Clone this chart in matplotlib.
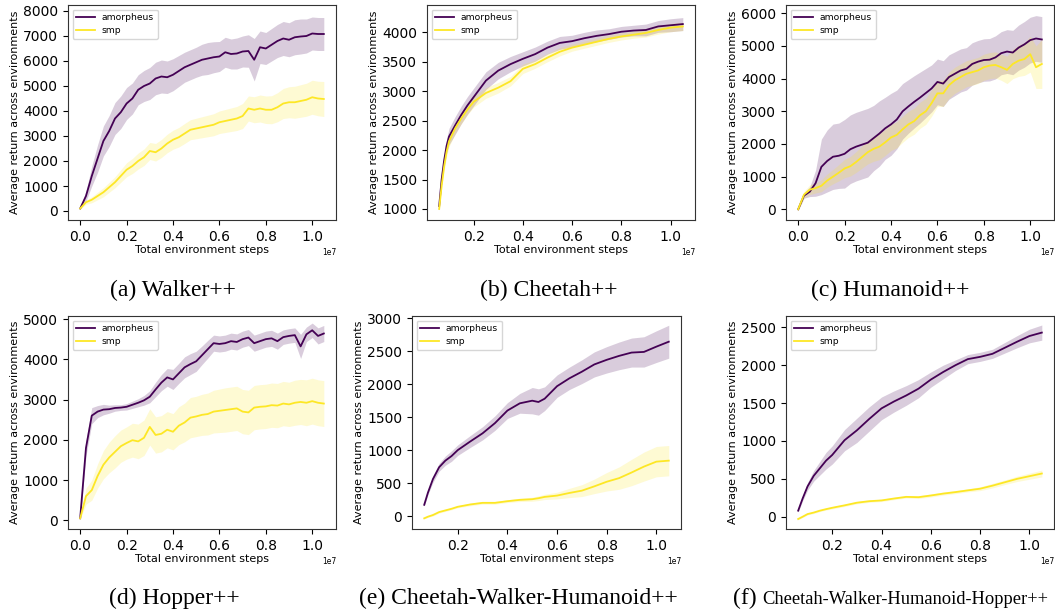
import matplotlib
matplotlib.use("Agg")
import matplotlib.pyplot as plt
from matplotlib.ticker import MultipleLocator
import numpy as np

AMORPH_COLOR = "#440154"
SMP_COLOR = "#fde725"

# x values are in units of 1e7 environment steps
walker_x = [0.0, 0.025, 0.05, 0.075, 0.1, 0.125, 0.15, 0.175, 0.2, 0.225, 0.25, 0.275, 0.3, 0.325, 0.35,
            0.375, 0.4, 0.425, 0.45, 0.475, 0.5, 0.525, 0.55, 0.575, 0.6, 0.625, 0.65, 0.675, 0.7, 0.725,
            0.75, 0.775, 0.8, 0.825, 0.85, 0.875, 0.9, 0.925, 0.95, 0.975, 1.0, 1.025, 1.05]
walker_amorph = [100, 600, 1400, 2100, 2800, 3200, 3700, 3950, 4300, 4500, 4850, 5000, 5100, 5300, 5380,
                 5350, 5450, 5600, 5750, 5850, 5950, 6050, 6100, 6150, 6180, 6350, 6280, 6300, 6380, 6400,
                 6050, 6550, 6500, 6650, 6800, 6900, 6850, 6950, 6980, 7000, 7100, 7080, 7080]
walker_amorph_sd = [30, 200, 400, 550, 600, 620, 640, 650, 640, 620, 600, 620, 640, 650, 660,
                    650, 640, 620, 600, 600, 600, 620, 640, 620, 600, 600, 600, 620, 620, 650,
                    850, 650, 640, 650, 660, 680, 680, 700, 700, 680, 660, 660, 660]
walker_smp = [100, 350, 450, 600, 750, 950, 1150, 1400, 1650, 1800, 2000, 2150, 2400, 2350, 2500,
              2700, 2850, 2950, 3100, 3250, 3300, 3350, 3400, 3450, 3550, 3600, 3650, 3700, 3800, 4100,
              4050, 4100, 4050, 4050, 4150, 4300, 4350, 4350, 4400, 4450, 4550, 4500, 4480]
walker_smp_sd = [30, 80, 120, 150, 180, 200, 220, 250, 280, 300, 320, 330, 340, 350, 360,
                 370, 380, 390, 400, 400, 410, 420, 430, 440, 450, 460, 470, 480, 500, 500,
                 520, 540, 550, 560, 580, 600, 620, 640, 650, 660, 680, 690, 700]

cheetah_x = [0.06, 0.07, 0.08, 0.09, 0.1, 0.125, 0.15, 0.175, 0.2, 0.25, 0.3, 0.35, 0.4, 0.45, 0.5,
             0.55, 0.6, 0.65, 0.7, 0.75, 0.8, 0.85, 0.9, 0.95, 1.0, 1.05]
cheetah_amorph = [1050, 1500, 1820, 2070, 2230, 2420, 2600, 2760, 2900, 3180, 3350, 3460, 3550, 3630, 3740,
                  3820, 3850, 3900, 3940, 3970, 4010, 4030, 4040, 4100, 4120, 4140]
cheetah_amorph_sd = [30, 60, 100, 120, 140, 150, 150, 150, 150, 150, 140, 130, 120, 120, 110,
                     110, 100, 100, 100, 90, 90, 90, 100, 100, 110, 110]
cheetah_smp = [1000, 1400, 1720, 1970, 2150, 2370, 2540, 2690, 2820, 2970, 3060, 3170, 3380, 3460, 3570,
               3670, 3740, 3790, 3840, 3890, 3930, 3960, 3990, 4040, 4080, 4100]
cheetah_smp_sd = [20, 50, 70, 80, 90, 90, 90, 90, 90, 90, 90, 80, 80, 70, 70,
                  70, 60, 60, 60, 60, 60, 60, 70, 70, 70, 70]

humanoid_x = walker_x
humanoid_amorph = [0, 420, 540, 800, 1300, 1480, 1610, 1640, 1700, 1840, 1920, 1980, 2040, 2180, 2320,
                   2480, 2600, 2750, 3000, 3150, 3290, 3420, 3560, 3700, 3900, 3850, 4050, 4150, 4250, 4300,
                   4450, 4520, 4570, 4580, 4650, 4780, 4830, 4800, 4950, 5050, 5180, 5230, 5200]
humanoid_amorph_sd = [30, 80, 150, 400, 850, 950, 1000, 1000, 1050, 1050, 1050, 1050, 1050, 1000, 1000,
                      950, 950, 900, 850, 820, 800, 780, 750, 720, 700, 700, 680, 670, 660, 650,
                      650, 650, 650, 650, 660, 660, 670, 680, 690, 700, 700, 700, 700]
humanoid_smp = [0, 450, 600, 650, 720, 880, 1000, 1120, 1250, 1320, 1450, 1600, 1750, 1850, 1920,
                2050, 2200, 2280, 2450, 2600, 2700, 2880, 3000, 3250, 3550, 3550, 3800, 3950, 4050, 4150,
                4200, 4250, 4350, 4400, 4420, 4350, 4270, 4450, 4550, 4600, 4750, 4350, 4450]
humanoid_smp_sd = [30, 100, 150, 150, 180, 200, 220, 250, 280, 300, 320, 340, 360, 380, 400,
                   400, 400, 400, 400, 400, 400, 400, 400, 400, 400, 400, 400, 400, 400, 400,
                   400, 400, 400, 400, 400, 400, 420, 450, 480, 500, 550, 650, 750]

hopper_x = walker_x
hopper_amorph = [50, 1800, 2600, 2700, 2750, 2760, 2790, 2800, 2820, 2870, 2920, 2980, 3070, 3250, 3420,
                 3550, 3500, 3650, 3800, 3880, 3950, 4100, 4250, 4400, 4380, 4400, 4450, 4430, 4500, 4540,
                 4400, 4450, 4500, 4520, 4450, 4550, 4580, 4600, 4320, 4620, 4720, 4580, 4640]
hopper_amorph_sd = [20, 200, 200, 150, 130, 100, 80, 70, 80, 90, 100, 120, 150, 180, 200,
                    220, 250, 250, 260, 260, 250, 230, 220, 200, 200, 200, 200, 200, 200, 200,
                    200, 200, 200, 200, 200, 180, 180, 180, 300, 180, 180, 200, 200]
hopper_smp = [50, 600, 750, 1100, 1380, 1560, 1700, 1840, 1920, 1990, 1960, 2050, 2320, 2120, 2150,
              2250, 2200, 2350, 2430, 2550, 2580, 2620, 2640, 2700, 2720, 2740, 2760, 2780, 2700, 2680,
              2800, 2820, 2830, 2860, 2850, 2900, 2880, 2920, 2940, 2920, 2960, 2920, 2900]
hopper_smp_sd = [20, 200, 250, 300, 350, 380, 400, 400, 400, 420, 430, 440, 450, 450, 450,
                 450, 450, 470, 480, 500, 500, 510, 520, 530, 540, 550, 550, 550, 550, 550,
                 550, 550, 550, 550, 550, 550, 550, 560, 560, 570, 570, 570, 570]

cwh_x = [0.065, 0.08, 0.1, 0.125, 0.15, 0.175, 0.2, 0.25, 0.3, 0.35, 0.4, 0.45, 0.5, 0.525, 0.55,
         0.6, 0.65, 0.7, 0.75, 0.8, 0.85, 0.9, 0.95, 1.0, 1.05]
cwh_amorph = [170, 355, 560, 740, 840, 910, 1000, 1130, 1255, 1410, 1600, 1710, 1750, 1730, 1780,
              1970, 2090, 2190, 2300, 2370, 2430, 2480, 2490, 2570, 2645]
cwh_amorph_sd = [20, 30, 50, 60, 70, 80, 80, 90, 100, 110, 120, 150, 200, 200, 180,
                 170, 170, 180, 190, 200, 210, 220, 230, 240, 250]
cwh_smp = [-35, -10, 15, 60, 85, 110, 140, 175, 200, 200, 225, 245, 255, 270, 290,
           310, 350, 385, 450, 520, 575, 660, 750, 825, 840]
cwh_smp_sd = [10, 10, 15, 15, 15, 15, 15, 20, 20, 20, 20, 25, 30, 35, 40,
              50, 70, 90, 110, 140, 170, 200, 220, 230, 230]

cwhh_x = [0.062, 0.08, 0.1, 0.125, 0.15, 0.175, 0.2, 0.25, 0.3, 0.35, 0.4, 0.45, 0.5, 0.55, 0.6,
          0.65, 0.7, 0.75, 0.8, 0.85, 0.9, 0.95, 1.0, 1.05]
cwhh_amorph = [80, 240, 400, 540, 640, 740, 815, 1010, 1140, 1290, 1430, 1520, 1600, 1690, 1810,
               1910, 2000, 2080, 2110, 2150, 2230, 2310, 2385, 2430]
cwhh_amorph_sd = [20, 30, 50, 70, 90, 110, 120, 140, 160, 160, 150, 140, 130, 120, 100,
                  90, 70, 60, 60, 60, 70, 80, 90, 100]
cwhh_smp = [-30, 0, 35, 55, 80, 100, 118, 150, 185, 205, 215, 240, 262, 258, 280,
            305, 325, 348, 370, 410, 455, 500, 535, 570]
cwhh_smp_sd = [10, 10, 12, 12, 12, 12, 15, 15, 15, 15, 15, 15, 15, 18, 20,
               20, 20, 20, 25, 30, 30, 35, 40, 45]

captions = ["(a) Walker++", "(b) Cheetah++", "(c) Humanoid++",
            "(d) Hopper++", "(e) Cheetah-Walker-Humanoid++", "(f)"]

panels = [
    (walker_x, walker_amorph, walker_amorph_sd, walker_smp, walker_smp_sd),
    (cheetah_x, cheetah_amorph, cheetah_amorph_sd, cheetah_smp, cheetah_smp_sd),
    (humanoid_x, humanoid_amorph, humanoid_amorph_sd, humanoid_smp, humanoid_smp_sd),
    (hopper_x, hopper_amorph, hopper_amorph_sd, hopper_smp, hopper_smp_sd),
    (cwh_x, cwh_amorph, cwh_amorph_sd, cwh_smp, cwh_smp_sd),
    (cwhh_x, cwhh_amorph, cwhh_amorph_sd, cwhh_smp, cwhh_smp_sd),
]

# layout in pixels: (left, top, width, height), ylim, y tick step
W, H = 1055, 610
boxes = [(68, 5, 268, 215), (427, 5, 268, 215), (786, 5, 268, 215),
         (68, 316, 268, 213), (412, 316, 269, 213), (786, 316, 268, 213)]
ylims = [(-360, 8240), (813, 4464), (-327, 6255), (-216, 5075), (-197, 3035), (-162, 2649)]
ysteps = [1000, 500, 1000, 1000, 500, 500]
# caption centre x and baseline y
caption_pos = [(173, 296), (549, 296), (890, 296), (174, 604), (518, 604), (891, 604)]

fig = plt.figure(figsize=(W / 100, H / 100), dpi=100)

for i, (x, am, am_sd, sm, sm_sd) in enumerate(panels):
    l, t, w, h = boxes[i]
    ax = fig.add_axes([l / W, (H - t - h) / H, w / W, h / H])
    xs = np.array(x) * 1e7
    am = np.array(am, dtype=float)
    am_sd = np.array(am_sd, dtype=float)
    sm = np.array(sm, dtype=float)
    sm_sd = np.array(sm_sd, dtype=float)

    ax.fill_between(xs, am - am_sd, am + am_sd, color=AMORPH_COLOR, alpha=0.2, lw=0)
    ax.fill_between(xs, sm - sm_sd, sm + sm_sd, color=SMP_COLOR, alpha=0.2, lw=0)
    ax.plot(xs, am, color=AMORPH_COLOR, lw=1.3, label="amorpheus")
    ax.plot(xs, sm, color=SMP_COLOR, lw=1.3, label="smp")

    ax.set_ylim(*ylims[i])
    ax.yaxis.set_major_locator(MultipleLocator(ysteps[i]))
    ax.xaxis.set_major_locator(MultipleLocator(0.2e7))
    ax.margins(x=0.05)
    ax.tick_params(labelsize=10, length=3.5, width=0.8)
    ax.xaxis.get_offset_text().set_fontsize(5.5)
    ax.set_xlabel("Total environment steps", fontsize=8, labelpad=1)
    ax.set_ylabel("Average return across environments", fontsize=8, labelpad=2)
    for sp in ax.spines.values():
        sp.set_color("#333333")
        sp.set_linewidth(0.8)
    ax.legend(loc="upper left", fontsize=6.6, handlelength=2.0, borderpad=0.4,
              labelspacing=0.4, framealpha=0.8, edgecolor="#cccccc")

    cx, cy = caption_pos[i]
    if i < 5:
        fig.text(cx / W, (H - cy) / H, captions[i], ha="center", va="baseline",
                 fontsize=17, family="Liberation Serif")
    else:
        fig.text(733 / W, (H - cy) / H, captions[i], ha="left", va="baseline",
                 fontsize=17, family="Liberation Serif")
        fig.text(762 / W, (H - cy) / H, "Cheetah-Walker-Humanoid-Hopper++", ha="left",
                 va="baseline", fontsize=13.3, family="Liberation Serif")

fig.savefig("out.png", dpi=100)
